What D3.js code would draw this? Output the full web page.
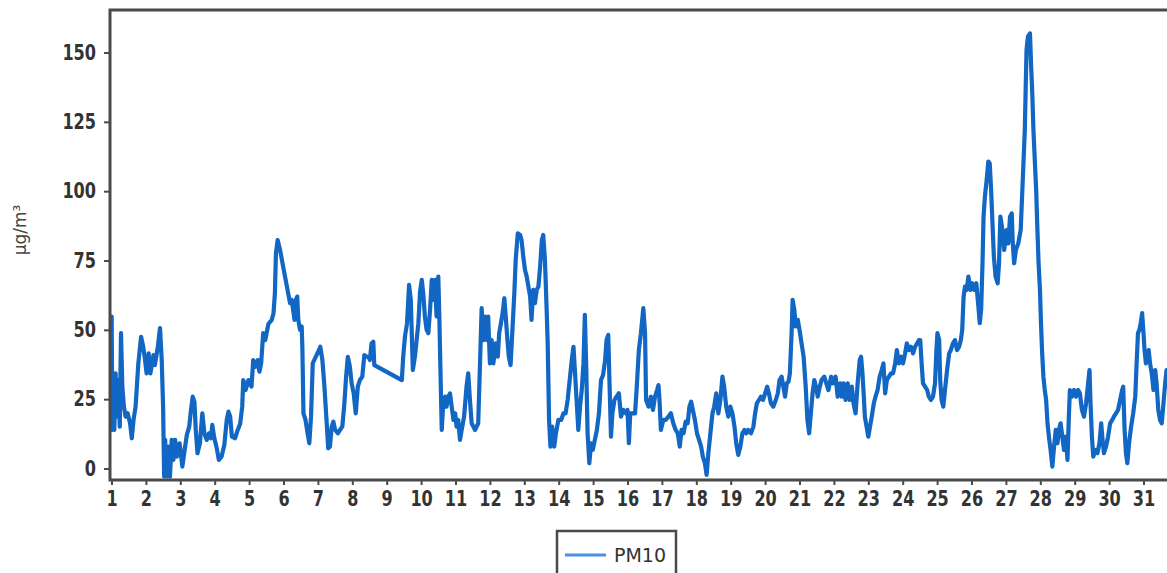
<!DOCTYPE html>
<html>
<head>
<meta charset="utf-8">
<script src="https://cdn.jsdelivr.net/npm/d3@7"></script>
<style>
  html, body { margin: 0; padding: 0; background: #fff; }
  svg { display: block; }
</style>
</head>
<body>
<svg id="chart" width="1167" height="573"></svg>
<script>
// ---- data ----
const days = [
1.005,1.024,1.053,1.082,1.12,1.16,1.20,1.24,1.276,1.315,1.36,1.41,1.47,1.54,1.59,1.64,1.70,1.78,1.86,1.92,1.97,2.02,2.08,2.13,2.22,2.26,2.34,2.41,2.46,2.50,2.53,2.56,2.60,2.65,2.70,2.75,2.80,2.85,2.90,2.98,3.06,3.14,3.19,3.26,3.31,3.36,3.41,3.45,3.50,3.57,3.64,3.70,3.77,3.83,3.89,3.93,3.99,4.06,4.12,4.20,4.28,4.35,4.40,4.45,4.50,4.59,4.67,4.74,4.80,4.83,4.90,4.98,5.07,5.12,5.19,5.25,5.30,5.35,5.41,5.47,5.56,5.66,5.71,5.75,5.78,5.83,5.90,5.99,6.09,6.19,
6.24,6.32,6.36,6.40,6.43,6.48,6.53,6.55,6.58,6.64,6.70,6.75,6.80,6.85,6.94,7.01,7.07,7.13,7.19,7.25,7.30,7.35,7.40,7.45,7.50,7.58,7.64,7.71,7.77,7.82,7.87,7.93,7.98,8.04,8.10,8.16,8.22,8.29,8.35,8.41,8.47,8.51,8.56,8.61,8.64,9.44,9.48,9.53,9.59,9.65,9.70,9.76,9.82,9.87,9.92,9.97,10.02,10.07,10.11,10.16,10.21,10.26,10.31,10.36,10.40,10.45,10.50,10.53,10.56,10.60,10.65,10.70,10.74,10.79,10.84,10.89,10.94,10.99,11.03,11.08,11.13,11.18,11.25,11.32,11.37,11.42,
11.47,11.57,11.66,11.71,11.76,11.81,11.86,11.91,11.95,12.00,12.05,12.10,12.17,12.23,12.27,12.32,12.37,12.42,12.46,12.51,12.55,12.60,12.65,12.71,12.75,12.81,12.88,12.92,12.97,13.02,13.07,13.12,13.17,13.21,13.26,13.31,13.36,13.41,13.46,13.51,13.55,13.60,13.65,13.68,13.72,13.76,13.81,13.87,13.92,13.99,14.07,14.14,14.20,14.26,14.32,14.38,14.43,14.47,14.52,14.57,14.62,14.67,14.72,14.76,14.80,14.84,14.89,14.94,14.99,15.05,15.11,15.17,15.23,15.29,15.35,15.39,15.44,15.48,15.52,15.56,15.62,15.68,15.75,15.81,15.88,15.95,16.00,16.04,16.08,16.15,16.22,16.27,16.33,16.39,16.46,16.51,
16.54,16.61,16.68,16.74,16.80,16.86,16.90,16.93,16.97,17.04,17.11,17.19,17.26,17.33,17.40,17.46,17.52,17.57,17.63,17.69,17.75,17.80,17.85,17.90,17.96,18.02,18.08,18.14,18.19,18.25,18.30,18.35,18.41,18.47,18.52,18.58,18.64,18.70,18.76,18.81,18.87,18.93,18.99,19.05,19.11,19.16,19.22,19.28,19.34,19.40,19.45,19.51,19.59,19.66,19.71,19.76,19.82,19.88,19.94,20.00,20.06,20.11,20.17,20.24,20.31,20.37,20.42,20.48,20.53,20.58,20.63,20.68,20.72,20.77,20.80,20.85,20.89,20.95,21.00,21.06,21.12,21.18,21.23,21.28,21.33,21.38,21.43,21.48,21.53,21.59,21.64,21.72,
21.84,21.92,21.98,22.05,22.11,22.18,22.23,22.28,22.34,22.40,22.46,22.52,22.57,22.63,22.69,22.75,22.79,22.83,22.87,22.90,22.95,23.00,23.05,23.10,23.16,23.21,23.27,23.33,23.39,23.44,23.49,23.54,23.60,23.66,23.72,23.78,23.83,23.89,23.95,24.01,24.07,24.12,24.18,24.24,24.30,24.36,24.42,24.47,24.51,24.55,24.59,24.65,24.71,24.76,24.82,24.88,24.94,24.98,25.01,25.06,25.09,25.13,25.18,25.23,25.29,25.35,25.40,25.46,25.52,25.58,25.64,25.69,25.73,25.77,25.81,25.86,25.91,25.97,26.02,26.08,26.14,26.20,26.24,26.28,26.32,26.35,26.39,26.44,26.49,26.53,26.57,26.61,26.65,26.70,26.76,26.80,26.84,26.90,26.95,
27.02,27.07,27.12,27.17,27.20,27.24,27.29,27.36,27.43,27.47,27.51,27.55,27.58,27.60,27.64,27.70,27.73,27.77,27.80,27.84,27.88,27.91,27.95,27.99,28.02,28.05,28.09,28.13,28.17,28.21,28.25,28.30,28.35,28.40,28.45,28.50,28.54,28.59,28.64,28.69,28.74,28.79,28.83,28.86,28.92,28.98,29.04,29.10,29.15,29.21,29.27,29.33,29.39,29.43,29.46,29.50,29.54,29.60,29.66,29.72,29.77,29.81,29.85,29.91,29.97,30.03,30.09,30.14,30.20,30.26,30.32,30.38,30.41,30.45,30.49,30.53,30.58,30.64,30.70,30.76,30.80,30.84,30.88,30.92,30.96,31.00,31.03,31.07,31.11,31.15,31.19,31.24,31.29,31.34,31.38,31.43,31.48,31.53,31.58,31.63,31.67
];
const pm10 = [
54.8,13.9,33.1,13.9,34.3,18.7,31.9,15.1,48.8,29.5,22.3,18.7,19.9,16.3,10.9,17.5,22.3,37.9,47.5,44.0,39.7,34.3,41.5,34.3,40.9,37.3,43.3,50.6,39.1,22.3,-2.9,10.3,-2.9,7.9,-2.9,10.3,3.1,10.3,4.3,9.1,0.7,7.9,12.1,15.1,21.1,25.9,24.1,13.9,5.5,9.1,19.9,12.7,10.3,12.7,10.9,15.7,10.9,7.3,3.1,4.3,8.5,17.5,20.5,18.7,11.5,10.9,13.9,16.1,22.3,31.9,28.3,31.9,29.5,39.1,36.7,39.1,34.9,37.9,48.8,46.3,52.1,53.6,56.0,63.2,77.6,82.4,78.8,72.8,66.2,59.6,
60.8,53.6,60.8,62,53.6,50,51.2,42.7,19.9,17.5,12.7,9.1,18.7,37.9,40.3,42.1,43.9,39.1,29.5,17.5,7.3,7.9,15.1,16.9,13.9,12.7,13.9,15.1,23.5,33.1,40.3,36.7,30.7,27.1,19.9,29.5,31.9,33.1,40.9,40.3,40.3,39.1,45.1,45.7,37.3,31.9,40.3,47.5,52.3,66.2,60.8,35.5,40.3,46.3,52.3,63.8,68,62,54.8,50,48.8,57.2,68,60.8,68,54.8,69.2,54.8,36.7,13.9,24.7,25.9,22.3,25.9,27.1,22.3,17.5,19.9,15.1,17.5,10.3,13.9,18.7,29.5,34.3,24.7,
16.3,13.9,16.3,36.7,57.8,46.3,54.8,46.3,54.8,37.9,46.3,37.9,45.1,40.3,48.8,52.3,56.0,61.4,54.8,46.3,40.3,37.3,48.8,63.2,75.2,84.8,84.2,82.4,76.4,71.6,69.2,65.6,62,53.6,64.4,59.6,64.4,65.6,72.8,82.4,84.2,75.2,57.2,45.1,17.5,7.9,15.1,7.9,12.7,17.5,17.5,19.9,19.9,24.7,31.9,39.1,43.9,35.5,24.7,13.9,22.3,28.3,37.9,55.4,36.7,12.7,1.9,9.1,6.7,10.3,13.9,19.9,31.9,33.7,39.1,46.3,48.2,29.5,11.5,19.9,24.7,25.9,27.1,18.7,21.1,19.9,21.1,9.1,19.9,19.9,19.9,29.5,42.7,48.8,57.8,48.8,
24.7,22.3,25.9,21.1,25.9,28.3,30.1,24.7,13.9,17.5,17.5,18.7,19.9,16.3,13.9,12.7,7.9,13.9,12.7,16.9,16.3,22.3,24.1,21.1,17.5,12.7,10.3,7.9,4.3,1.9,-2.3,5.5,12.7,19.9,22.3,27.1,19.9,24.7,33.1,29.5,22.3,18.7,22.3,19.9,15.1,9.1,4.9,7.9,12.7,13.9,12.7,13.9,12.7,15.1,19.9,23.5,24.7,25.9,24.7,27.1,29.5,27.1,23.5,22.3,24.7,27.1,31.9,33.1,29.5,25.9,30.7,31.3,34.3,48.8,60.8,57.2,51.2,53.6,50,45.1,40.3,29.5,17.5,12.7,19.9,27.1,31.9,29.5,25.9,29.5,31.9,33.1,
28.3,33.1,30.7,33.1,25.9,30.7,25.9,30.7,24.7,30.7,24.7,29.5,23.5,19.9,30.7,39.1,40.3,34.3,25.9,18.7,15.1,11.5,15.1,18.7,23.5,25.9,28.3,33.1,35.5,37.9,27.1,31.9,33.1,34.3,34.3,37.9,42.7,37.9,40.3,37.9,41.5,45.1,42.7,43.9,41.5,43.9,45.1,46.3,46.3,37.9,30.7,29.5,28.3,25.9,24.7,25.9,30.7,42.7,48.8,46.3,31.9,24.7,22.3,28.3,35.5,41.5,42.7,45.1,46.3,42.7,43.9,46.3,49.9,61.9,65.6,64.4,69.2,64.4,66.8,64.4,66.8,58.4,52.4,57.2,74.0,90.8,98.0,104,110.7,110,100.4,88.4,76.4,69.2,66.8,74.0,90.8,86.0,78.8,
86.0,81.2,90.8,92.0,81.2,74.0,78.8,81.2,86.0,98.0,110.0,122.1,140.1,150.9,155.7,156.9,146.1,134.1,122.1,111.2,100.4,88.4,74.0,64.4,52.4,42.7,33.1,28.3,24.7,16.3,11.5,6.7,0.7,7.9,13.9,9.1,13.9,16.3,11.5,6.7,11.5,3.1,18.7,28.3,25.9,28.3,25.9,28.3,27.1,21.1,18.7,23.5,30.7,35.5,23.5,11.5,4.3,6.7,5.5,9.1,16.3,10.3,5.5,7.9,11.5,16.3,17.5,18.7,19.9,21.1,24.7,28.3,29.5,13.9,5.5,1.9,9.1,15.1,19.9,25.9,37.9,48.8,50,52.4,56.0,48.8,42.7,37.9,40.3,42.7,37.9,34.3,28.3,35.5,30.7,21.1,17.5,16.3,23.5,30.7,35.5
];
const xTickDays = d3.range(1, 32);
const yTickValues = [0, 25, 50, 75, 100, 125, 150];
const seriesName = "PM10";
const yTitle = "μg/m³";

// ---- layout ----
const svg = d3.select("#chart");
const plot = { left: 110, top: 10, right: 1172, bottom: 480 };
const x = d3.scaleLinear().domain([1, 31]).range([111.5, 1143.5]);
const y = d3.scaleLinear().domain([0, 150]).range([468.5, 52.5]);
const axisColor = "#4a4a4a";
const lineColor = "#1167c3";
const fontFamily = "'DejaVu Sans', Verdana, sans-serif";

svg.append("defs").append("clipPath").attr("id", "clip")
  .append("rect").attr("x", plot.left).attr("y", plot.top)
  .attr("width", plot.right - plot.left).attr("height", plot.bottom - plot.top);

// data line
const data = days.map((d, i) => ({ d, v: pm10[i] }));
const line = d3.line().x(p => x(p.d)).y(p => y(p.v));
svg.append("path")
  .datum(data)
  .attr("clip-path", "url(#clip)")
  .attr("d", line)
  .attr("fill", "none")
  .attr("stroke", lineColor)
  .attr("stroke-width", 4.2)
  .attr("stroke-linejoin", "round")
  .attr("stroke-linecap", "round");

// y axis
const yAxis = svg.append("g")
  .attr("transform", `translate(${plot.left},0)`)
  .call(d3.axisLeft(y).tickValues(yTickValues).tickSize(6).tickPadding(8));
yAxis.select(".domain").remove();
yAxis.selectAll(".tick line").attr("stroke", axisColor).attr("stroke-width", 2);
yAxis.selectAll(".tick text")
  .attr("fill", "#333")
  .attr("font-family", fontFamily)
  .attr("font-weight", "bold")
  .attr("font-size", 21)
  .attr("textLength", d => String(d).length * 11.2)
  .attr("lengthAdjust", "spacingAndGlyphs");

// x axis
const xAxis = svg.append("g")
  .attr("transform", `translate(0,${plot.bottom})`)
  .call(d3.axisBottom(x).tickValues(xTickDays).tickSize(5).tickPadding(6).tickFormat(d3.format("d")));
xAxis.select(".domain").remove();
xAxis.selectAll(".tick line").attr("stroke", axisColor).attr("stroke-width", 2);
xAxis.selectAll(".tick text")
  .attr("fill", "#333")
  .attr("font-family", fontFamily)
  .attr("font-weight", "bold")
  .attr("font-size", 21)
  .attr("textLength", d => String(d).length * 11.2)
  .attr("lengthAdjust", "spacingAndGlyphs");

// frame
svg.append("path")
  .attr("d", `M${plot.right},${plot.top} H${plot.left} V${plot.bottom} H${plot.right}`)
  .attr("fill", "none")
  .attr("stroke", axisColor)
  .attr("stroke-width", 3);

// y title
svg.append("text")
  .attr("transform", "translate(26,230) rotate(-90)")
  .attr("text-anchor", "middle")
  .attr("font-family", fontFamily)
  .attr("font-size", 17)
  .attr("fill", "#444")
  .text(yTitle);

// legend
const lg = svg.append("g").attr("transform", "translate(557,531)");
lg.append("rect")
  .attr("x", 0).attr("y", 0).attr("width", 119).attr("height", 60)
  .attr("fill", "#fff").attr("stroke", axisColor).attr("stroke-width", 2.5);
lg.append("line")
  .attr("x1", 8).attr("x2", 49).attr("y1", 24).attr("y2", 24)
  .attr("stroke", "#4a90e2").attr("stroke-width", 3);
lg.append("text")
  .attr("x", 57).attr("y", 24).attr("dy", "0.36em")
  .attr("font-family", fontFamily)
  .attr("font-size", 19)
  .attr("fill", "#333")
  .text(seriesName);
</script>
</body>
</html>
